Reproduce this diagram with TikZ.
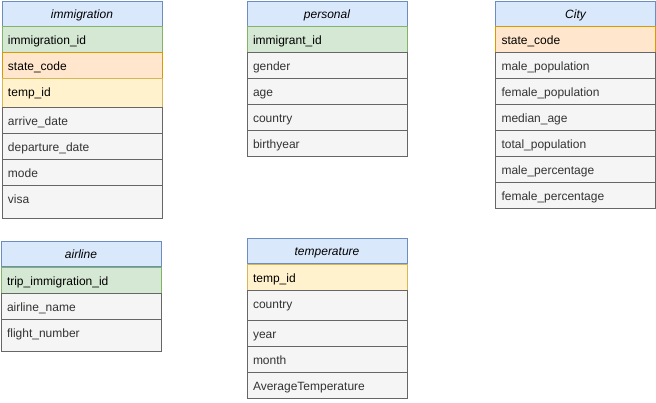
\documentclass[tikz,border=0pt]{standalone}
\usepackage{fontspec}
\setmainfont{Liberation Sans}
\definecolor{hdrfill}{HTML}{DAE8FC}
\definecolor{hdrline}{HTML}{6C8EBF}
\definecolor{grnfill}{HTML}{D5E8D4}
\definecolor{grnline}{HTML}{82B366}
\definecolor{orgfill}{HTML}{FFE6CC}
\definecolor{orgline}{HTML}{D79B00}
\definecolor{ylwfill}{HTML}{FFF2CC}
\definecolor{ylwline}{HTML}{D6B656}
\definecolor{gryfill}{HTML}{F5F5F5}
\definecolor{gryline}{HTML}{666666}
\definecolor{grytext}{HTML}{333333}
\tikzset{
  row/.style={draw, anchor=north west, minimum width=160pt, text width=148pt,
    inner xsep=6pt, inner ysep=0pt, outer sep=0pt, text height=18pt, text depth=8pt,
    align=left, line width=1pt, font=\fontsize{12}{14}\selectfont},
  hdr/.style={row, fill=hdrfill, draw=hdrline, align=center, text height=17pt,
    font=\fontsize{12}{14}\selectfont\itshape},
  grn/.style={row, fill=grnfill, draw=grnline},
  org/.style={row, fill=orgfill, draw=orgline},
  ylw/.style={row, fill=ylwfill, draw=ylwline},
  gry/.style={row, fill=gryfill, draw=gryline, text=grytext},
}
\begin{document}
\begin{tikzpicture}[x=1pt,y=-1pt]
\useasboundingbox (0,0) rectangle (656,402);
% immigration
\node[hdr] (imm-h) at (2,1) {immigration};
\node[grn] (imm-id) at (2,26) {immigration\_id};
\node[org] (imm-sc) at (2,52) {state\_code};
\node[ylw, text depth=11pt] (imm-tid) at (2,78) {temp\_id};
\node[gry] (imm-ad) at (2,107) {arrive\_date};
\node[gry] (imm-dd) at (2,133) {departure\_date};
\node[gry] (imm-mode) at (2,159) {mode};
\node[gry, text depth=15pt] (imm-visa) at (2,185) {visa};
% personal
\node[hdr] (per-h) at (247,1) {personal};
\node[grn] (per-id) at (247,26) {immigrant\_id};
\node[gry] (per-gender) at (247,52) {gender};
\node[gry] (per-age) at (247,78) {age};
\node[gry] (per-country) at (247,104) {country};
\node[gry] (per-by) at (247,130) {birthyear};
% City
\node[hdr] (city-h) at (495.5,1) {City};
\node[org] (city-sc) at (495.5,26) {state\_code};
\node[gry] (city-mp) at (495.5,52) {male\_population};
\node[gry] (city-fp) at (495.5,78) {female\_population};
\node[gry] (city-ma) at (495.5,104) {median\_age};
\node[gry] (city-tp) at (495.5,130) {total\_population};
\node[gry] (city-mpc) at (495.5,156) {male\_percentage};
\node[gry] (city-fpc) at (495.5,182) {female\_percentage};
% airline
\node[hdr] (air-h) at (1,241) {airline};
\node[grn] (air-id) at (1,267) {trip\_immigration\_id};
\node[gry] (air-name) at (1,293) {airline\_name};
\node[gry, text depth=14pt] (air-fn) at (1,319) {flight\_number};
% temperature
\node[hdr] (tmp-h) at (247,238) {temperature};
\node[ylw] (tmp-id) at (247,264) {temp\_id};
\node[gry, text depth=12pt] (tmp-country) at (247,290) {country};
\node[gry] (tmp-year) at (247,320) {year};
\node[gry] (tmp-month) at (247,346) {month};
\node[gry] (tmp-avg) at (247,372) {AverageTemperature};
\end{tikzpicture}
\end{document}
